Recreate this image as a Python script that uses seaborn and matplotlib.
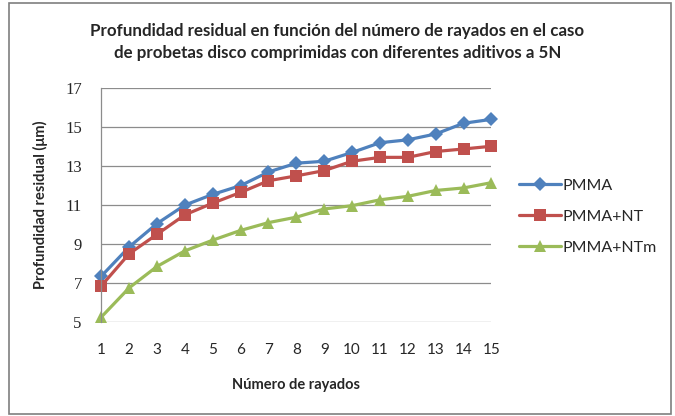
import pandas as pd
import seaborn as sns
import matplotlib.pyplot as plt
from matplotlib.patches import Rectangle

# datos
rayados = list(range(1, 16))
pmma = [7.35, 8.85, 10.05, 11.0, 11.55, 12.0, 12.7, 13.15, 13.25, 13.7, 14.2, 14.35, 14.65, 15.2, 15.4]
pmma_nt = [6.85, 8.5, 9.5, 10.5, 11.1, 11.65, 12.25, 12.5, 12.77, 13.25, 13.45, 13.45, 13.75, 13.88, 14.02]
pmma_ntm = [5.25, 6.75, 7.85, 8.65, 9.2, 9.7, 10.1, 10.38, 10.8, 10.97, 11.27, 11.45, 11.75, 11.88, 12.15]
series = ['PMMA', 'PMMA+NT', 'PMMA+NTm']
colores = ['#4F81BD', '#C0504D', '#9BBB59']
y_ticks = [5, 7, 9, 11, 13, 15, 17]

df = pd.DataFrame({
    'x': rayados * 3,
    'y': pmma + pmma_nt + pmma_ntm,
    'serie': [s for s in series for _ in rayados],
})

sns.set_style('white')
plt.rcParams['font.family'] = ['Lato', 'DejaVu Sans']

fig = plt.figure(figsize=(6.75, 4.16), dpi=100)
ax = fig.add_axes([0.150, 0.226, 0.578, 0.562])

sns.lineplot(data=df, x='x', y='y', hue='serie', style='serie',
             palette=dict(zip(series, colores)),
             markers={'PMMA': 'D', 'PMMA+NT': 's', 'PMMA+NTm': '^'},
             dashes=False, linewidth=2.3, markersize=9, markeredgewidth=0,
             ax=ax, legend=False)

# marcador del rombo un poco mas chico
for ln in ax.lines[:1]:
    ln.set_markersize(7.5)

ax.set_xlim(1, 15)
ax.set_ylim(5, 17)
ax.set_xticks(rayados)
ax.set_yticks(y_ticks)
ax.tick_params(axis='x', length=0, pad=15, labelsize=11)
ax.tick_params(axis='y', length=0, pad=14, labelsize=12)
for t in ax.get_yticklabels():
    t.set_family('Liberation Serif')
ax.grid(axis='y', color='#8c8c8c', linewidth=0.9)
ax.set_axisbelow(True)
for s in ['top', 'right', 'bottom']:
    ax.spines[s].set_visible(False)
ax.spines['left'].set_color('#8c8c8c')
ax.spines['left'].set_linewidth(0.9)
for ln in ax.lines:
    ln.set_clip_on(False)

ax.set_xlabel('Número de rayados', fontsize=10.5, fontweight='bold', labelpad=15)
ax.set_ylabel('Profundidad residual (μm)', fontsize=10.5, fontweight='bold', labelpad=12)

fig.text(0.5, 0.90,
         'Profundidad residual en función del número de rayados en el caso\n'
         'de probetas disco comprimidas con diferentes aditivos a 5N',
         ha='center', va='center', fontsize=12.2, fontweight='bold', linespacing=1.45)

handles = [plt.Line2D([], [], color=c, marker=m, linewidth=2.3, markersize=ms, markeredgewidth=0)
           for c, m, ms in zip(colores, ['D', 's', '^'], [7.5, 9, 9])]
fig.legend(handles, series, loc='upper left', bbox_to_anchor=(0.748, 0.605),
           frameon=False, fontsize=11.5, handlelength=2.6, handletextpad=0.1,
           labelspacing=1.05)

fig.patches.append(Rectangle((9 / 675, 2 / 416), 662 / 675, 411 / 416,
                             transform=fig.transFigure, fill=False,
                             edgecolor='#7f7f7f', linewidth=1.2))

fig.savefig('out.png', dpi=100)
